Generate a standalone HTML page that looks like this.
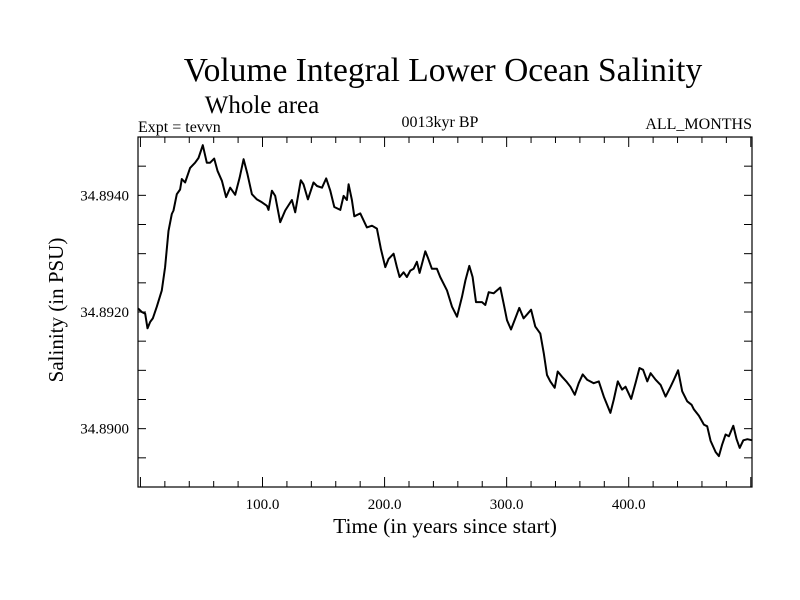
<!DOCTYPE html>
<html><head><meta charset="utf-8"><style>
body{margin:0;background:#fff}
svg{display:block;font-family:"Liberation Serif",serif}
</style></head><body>
<svg id="chart" width="800" height="600" viewBox="0 0 800 600" xmlns="http://www.w3.org/2000/svg">
<rect width="800" height="600" fill="#fff"/>
<text x="443" y="81" font-size="33.5" text-anchor="middle">Volume Integral Lower Ocean Salinity</text>
<text x="262" y="113" font-size="25" text-anchor="middle">Whole area</text>
<text x="138" y="132" font-size="16">Expt = tevvn</text>
<text x="440" y="127" font-size="16" text-anchor="middle">0013kyr BP</text>
<text x="752" y="129" font-size="16" text-anchor="end">ALL_MONTHS</text>
<text transform="translate(63,310) rotate(-90)" font-size="21" text-anchor="middle">Salinity (in PSU)</text>
<text x="445" y="533" font-size="21.5" text-anchor="middle">Time (in years since start)</text>
<g id="ticks"></g>
<g id="labels"></g>
<path id="series" fill="none" stroke="#000" stroke-width="2" stroke-linejoin="round"/>
<rect x="138" y="137" width="614" height="350" fill="none" stroke="#000" stroke-width="1.2"/>
</svg>
<script>
const years=[-1.9,1.1,3.9,5.8,8.0,10.1,13.4,17.5,20.2,23.0,25.7,27.1,29.8,32.5,33.9,36.6,40.7,44.8,47.6,51.1,54.4,57.1,60.4,63.1,66.7,70.2,73.5,77.6,81.2,84.5,87.7,91.3,95.4,99.5,103.6,104.9,107.7,110.4,114.5,118.6,124.1,126.8,131.4,133.6,137.2,141.8,144.6,148.7,152.2,155.5,158.8,163.7,166.4,169.1,170.5,173.2,175.2,180.1,182.8,185.5,189.7,193.7,197.0,200.6,203.3,207.4,210.1,212.3,215.6,218.3,221.1,223.8,226.5,228.7,233.4,235.3,238.8,242.9,245.6,251.1,255.2,259.3,263.4,266.2,269.4,272.1,274.9,279.8,282.5,285.3,289.4,294.8,297.6,300.3,303.6,307.1,310.4,313.9,317.2,320.0,323.5,327.6,330.4,333.1,335.8,339.4,341.8,345.4,348.9,352.2,355.8,359.0,362.3,365.9,371.3,375.5,379.6,385.0,387.8,391.1,394.6,397.4,402.0,405.6,408.8,411.8,415.2,417.9,422.0,426.1,430.2,434.3,437.0,440.5,443.8,447.9,451.5,453.4,457.5,461.6,464.3,467.1,471.2,473.9,476.6,479.4,482.1,485.7,488.4,490.9,493.9,497.2,501.3];
const salinityOffset=[20.6,20.0,19.7,17.2,18.3,18.9,20.9,23.7,27.7,33.9,36.8,37.4,40.2,41.0,42.8,42.2,44.7,45.6,46.4,48.6,45.6,45.6,46.3,44.2,42.5,39.7,41.3,40.1,43.0,46.2,43.6,40.2,39.3,38.8,38.2,37.5,40.8,39.9,35.4,37.4,39.2,37.1,42.6,41.9,39.3,42.2,41.6,41.3,42.9,40.8,38.0,37.5,39.9,39.2,41.9,39.2,36.4,36.9,35.7,34.5,34.8,34.3,30.8,27.7,29.1,30.0,27.7,26.0,26.8,26.0,27.1,27.4,28.6,26.7,30.4,29.4,27.4,27.4,26.0,23.7,20.9,19.2,22.6,25.4,27.9,26.0,21.7,21.7,21.2,23.4,23.2,24.2,21.4,18.6,17.0,18.9,20.7,18.9,19.7,20.4,17.5,16.3,12.9,9.2,8.1,7.0,9.8,8.9,8.1,7.2,5.8,7.8,9.3,8.4,7.8,8.1,5.5,2.7,5.0,8.1,6.7,7.2,5.1,7.8,10.4,10.1,8.1,9.5,8.4,7.5,5.5,7.2,8.4,10.0,6.4,4.7,4.1,3.3,2.2,0.7,0.4,-2.1,-4.0,-4.7,-2.7,-1.0,-1.3,0.5,-1.8,-3.3,-2.0,-1.8,-2.0];
const salinity=salinityOffset.map(v=>34.89+v*1e-4);
const xTickLabels=["100.0","200.0","300.0","400.0"];
const xTickValues=[100,200,300,400];
const yTickLabels=["34.8940","34.8920","34.8900"];
const yTickValues=[34.894,34.892,34.890];
const L=138,R=752,T=137,B=487,X0=-2,X1=501,Y0=34.889,Y1=34.895;
const sx=v=>L+(v-X0)/(X1-X0)*(R-L);
const sy=v=>B-(v-Y0)/(Y1-Y0)*(B-T);
const NS="http://www.w3.org/2000/svg";
let d="";years.forEach((x,i)=>{d+=(i?"L":"M")+sx(x).toFixed(1)+" "+sy(salinity[i]).toFixed(1)});
document.getElementById("series").setAttribute("d",d);
const tg=document.getElementById("ticks"),lg=document.getElementById("labels");
function line(x1,y1,x2,y2){const l=document.createElementNS(NS,"line");
l.setAttribute("x1",x1);l.setAttribute("y1",y1);l.setAttribute("x2",x2);l.setAttribute("y2",y2);
l.setAttribute("stroke","#000");l.setAttribute("stroke-width","1");


tg.appendChild(l);}
for(let v=0;v<=500;v+=20){const x=sx(v);if(x<L||x>R)continue;const len=v%100===0?10:6;line(x,B,x,B-len);line(x,T,x,T+len);}
for(let k=0;k<=12;k++){const v=Y0+k*0.0005;const y=sy(v);line(L,y,L+8,y);line(R,y,R-8,y);}
function txt(s,x,y,anchor,name){const t=document.createElementNS(NS,"text");t.textContent=s;
t.setAttribute("x",x);t.setAttribute("y",y);t.setAttribute("font-size","15");t.setAttribute("text-anchor",anchor);


lg.appendChild(t);}
xTickValues.forEach((v,i)=>txt(xTickLabels[i],sx(v),509,"middle","x-tick-label"));
yTickValues.forEach((v,i)=>txt(yTickLabels[i],129,sy(v)+5,"end","y-tick-label"));
</script>
</body></html>
